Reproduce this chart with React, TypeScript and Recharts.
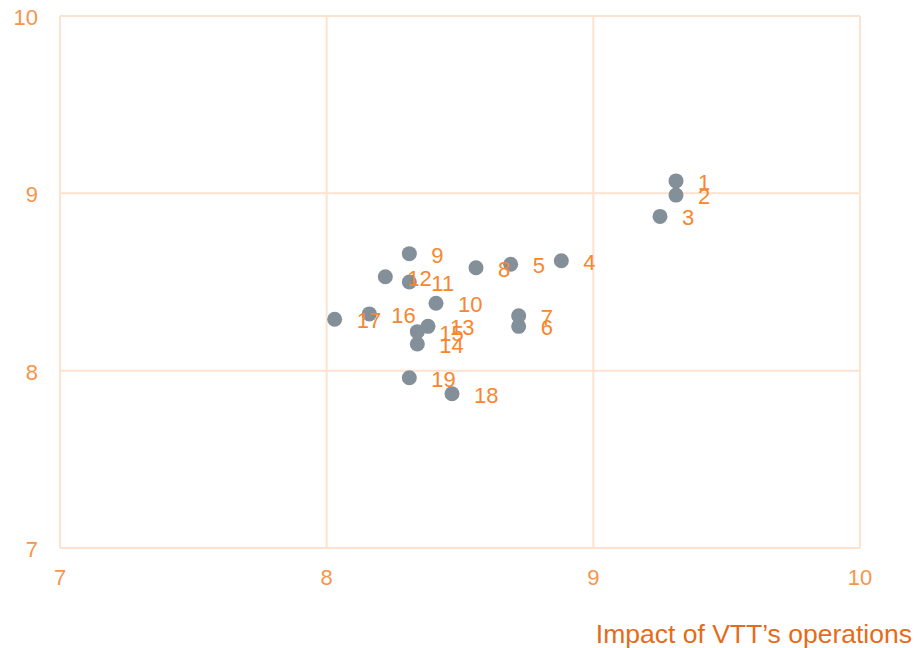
import React from 'react';
import {
    ScatterChart,
    Scatter,
    XAxis,
    YAxis,
    CartesianGrid,
} from 'recharts';

// point ids and their readings
const pointIds = ['1', '2', '3', '4', '5', '6', '7', '8', '9', '10', '11', '12', '13', '14', '15', '16', '17', '18', '19'];
const impactValues = [9.31, 9.31, 9.25, 8.88, 8.69, 8.72, 8.72, 8.56, 8.31, 8.41, 8.31, 8.22, 8.38, 8.34, 8.34, 8.16, 8.03, 8.47, 8.31];
const otherValues = [9.07, 8.99, 8.87, 8.62, 8.60, 8.25, 8.31, 8.58, 8.66, 8.38, 8.50, 8.53, 8.25, 8.15, 8.22, 8.32, 8.29, 7.87, 7.96];
const axisTicks = [7, 8, 9, 10];

const xTitle = 'Impact of VTT\u2019s operations';

const FONT = '"Liberation Sans", Arial, sans-serif';
const GRID = '#fde2d0';
const TICK_COLOR = '#f9944c';
const LABEL_COLOR = '#f7862f';
const TITLE_COLOR = '#e36c1b';
const DOT = '#838f99';

const data = pointIds.map((id, i) => ({ id, x: impactValues[i], y: otherValues[i] }));

const XTick = (props: any) => {
    const { x, y, payload } = props;
    return (
        <text x={x} y={y + 37} textAnchor="middle" fill={TICK_COLOR} fontSize={22} fontFamily={FONT}>
            {payload.value}
        </text>
    );
};

const YTick = (props: any) => {
    const { x, y, payload } = props;
    return (
        <text x={x - 22} y={y + 9} textAnchor="end" fill={TICK_COLOR} fontSize={22} fontFamily={FONT}>
            {payload.value}
        </text>
    );
};

// dot plus its number label to the right
const DotWithLabel = (props: any) => {
    const { cx, cy, payload } = props;
    return (
        <g>
            <circle cx={cx} cy={cy} r={7.5} fill={DOT} />
            <text x={cx + 22} y={cy + 9} fill={LABEL_COLOR} fontSize={22} fontFamily={FONT}>
                {payload.id}
            </text>
        </g>
    );
};

const XTitle = (props: any) => {
    const { viewBox } = props;
    return (
        <text
            x={viewBox.x + viewBox.width + 52}
            y={viewBox.y + 95}
            textAnchor="end"
            fill={TITLE_COLOR}
            fontSize={26.5}
            fontFamily={FONT}
        >
            {xTitle}
        </text>
    );
};

const App: React.FC = () => {
    return (
        <div style={{ position: 'absolute', left: 0, top: 0, background: '#fff' }}>
            <ScatterChart width={920} height={648} margin={{ top: 16, right: 60, left: 0, bottom: 0 }}>
                <CartesianGrid stroke={GRID} strokeWidth={2} />
                <XAxis
                    type="number"
                    dataKey="x"
                    domain={[7, 10]}
                    ticks={axisTicks}
                    height={100}
                    axisLine={{ stroke: GRID, strokeWidth: 2 }}
                    tickLine={false}
                    tickSize={0}
                    tickMargin={0}
                    tick={<XTick />}
                    label={<XTitle />}
                />
                <YAxis
                    type="number"
                    dataKey="y"
                    domain={[7, 10]}
                    ticks={axisTicks}
                    width={60}
                    axisLine={{ stroke: GRID, strokeWidth: 2 }}
                    tickLine={false}
                    tickSize={0}
                    tickMargin={0}
                    tick={<YTick />}
                />
                <Scatter data={data} shape={<DotWithLabel />} isAnimationActive={false} />
            </ScatterChart>
        </div>
    );
};

export default App;
